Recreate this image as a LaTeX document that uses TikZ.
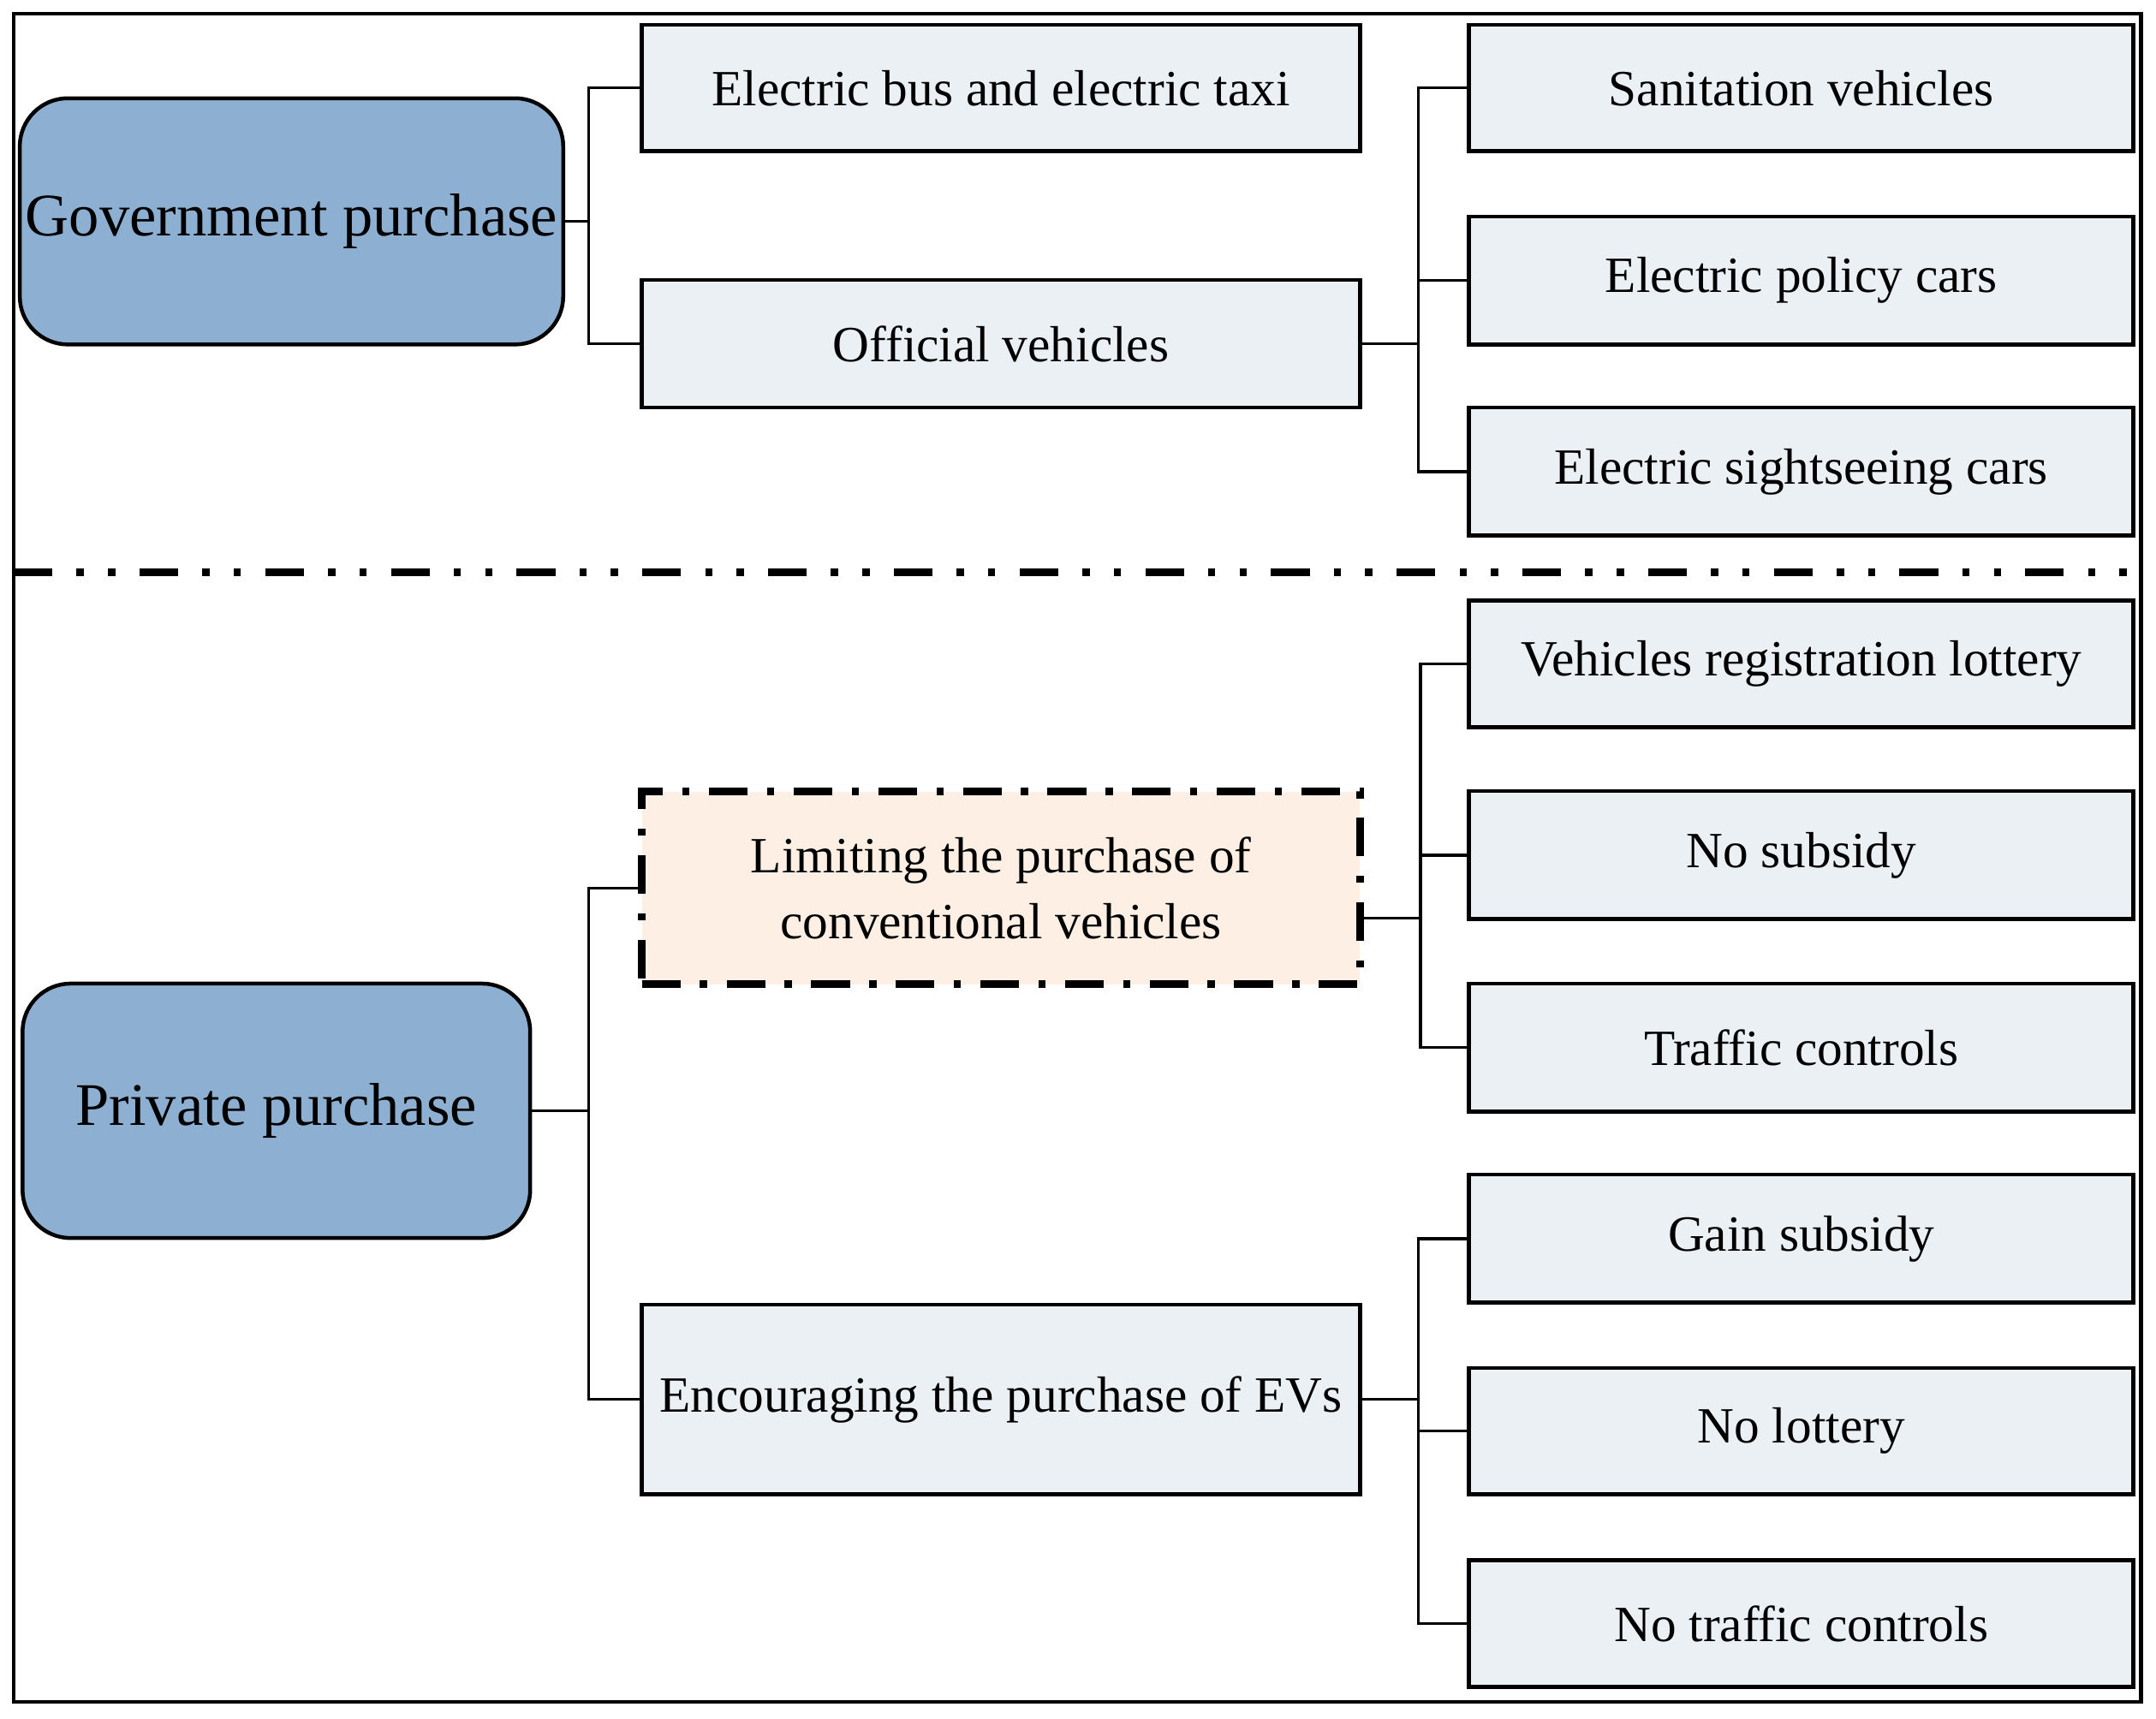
\documentclass[tikz,border=0pt]{standalone}
\usepackage{fontspec}
\setmainfont{Liberation Serif}
\usetikzlibrary{positioning}
\definecolor{rootblue}{HTML}{8DB0D2}
\definecolor{leafgray}{HTML}{EBF0F5}
\definecolor{limpeach}{HTML}{FDEFE3}
\tikzset{
  root/.style={draw=black,thick,rounded corners=0.35cm,fill=rootblue,font=\fontsize{12.5}{16}\selectfont,inner sep=0pt},
  leaf/.style={draw=black,thick,fill=leafgray,font=\fontsize{10.5}{13.5}\selectfont,inner sep=0pt,align=center},
  link/.style={draw=black,semithick}
}
\begin{document}
\begin{tikzpicture}[x=0.01cm,y=-0.01cm]
            \useasboundingbox (0,0) rectangle (1568,1250);
            \draw[thick] (10,10) rectangle (1557,1238);
            \draw[line width=1.6pt,dash pattern=on 8pt off 5pt on 1.5pt off 5pt on 1.5pt off 5pt] (10,416) -- (1557,416);

            % roots
            \node[root,minimum width=3.95cm,minimum height=1.79cm] (gov) at (212,161) {Government purchase};
            \node[root,minimum width=3.69cm,minimum height=1.85cm] (pri) at (201,808) {Private purchase};

            % middle column
            \node[leaf,minimum width=5.22cm,minimum height=0.92cm] (bus) at (728,64) {Electric bus and electric taxi};
            \node[leaf,minimum width=5.22cm,minimum height=0.93cm] (off) at (728,250) {Official vehicles};
            \node[leaf,minimum width=5.22cm,minimum height=1.40cm,fill=limpeach,line width=1.6pt,dash pattern=on 8pt off 4pt on 1.5pt off 4pt] (lim) at (728,646) {Limiting the purchase of\\conventional vehicles};
            \node[leaf,minimum width=5.22cm,minimum height=1.38cm] (enc) at (728,1018) {Encouraging the purchase of EVs};

            % right column
            \node[leaf,minimum width=4.83cm,minimum height=0.92cm] (san) at (1310,64) {Sanitation vehicles};
            \node[leaf,minimum width=4.83cm,minimum height=0.93cm] (pol) at (1310,204) {Electric policy cars};
            \node[leaf,minimum width=4.83cm,minimum height=0.93cm] (sig) at (1310,343) {Electric sightseeing cars};
            \node[leaf,minimum width=4.83cm,minimum height=0.92cm] (lot) at (1310,483) {Vehicles registration lottery};
            \node[leaf,minimum width=4.83cm,minimum height=0.93cm] (nos) at (1310,622) {No subsidy};
            \node[leaf,minimum width=4.83cm,minimum height=0.93cm] (tra) at (1310,762) {Traffic controls};
            \node[leaf,minimum width=4.83cm,minimum height=0.93cm] (gai) at (1310,901) {Gain subsidy};
            \node[leaf,minimum width=4.83cm,minimum height=0.92cm] (nol) at (1310,1041) {No lottery};
            \node[leaf,minimum width=4.83cm,minimum height=0.92cm] (not) at (1310,1181) {No traffic controls};

            % connectors
            \foreach \c in {bus,off} \draw[link] (gov.east) -- ++(17,0) |- (\c.west);
            \foreach \c in {lim,enc} \draw[link] (pri.east) -- ++(41,0) |- (\c.west);
            \foreach \c in {san,pol,sig} \draw[link] (off.east) -- ++(41,0) |- (\c.west);
            \foreach \c in {lot,nos,tra} \draw[link] ([yshift=-0.22cm]lim.east) -- ++(41,0) |- (\c.west);
            \foreach \c in {gai,nol,not} \draw[link] (enc.east) -- ++(41,0) |- (\c.west);
        \end{tikzpicture}
\end{document}
